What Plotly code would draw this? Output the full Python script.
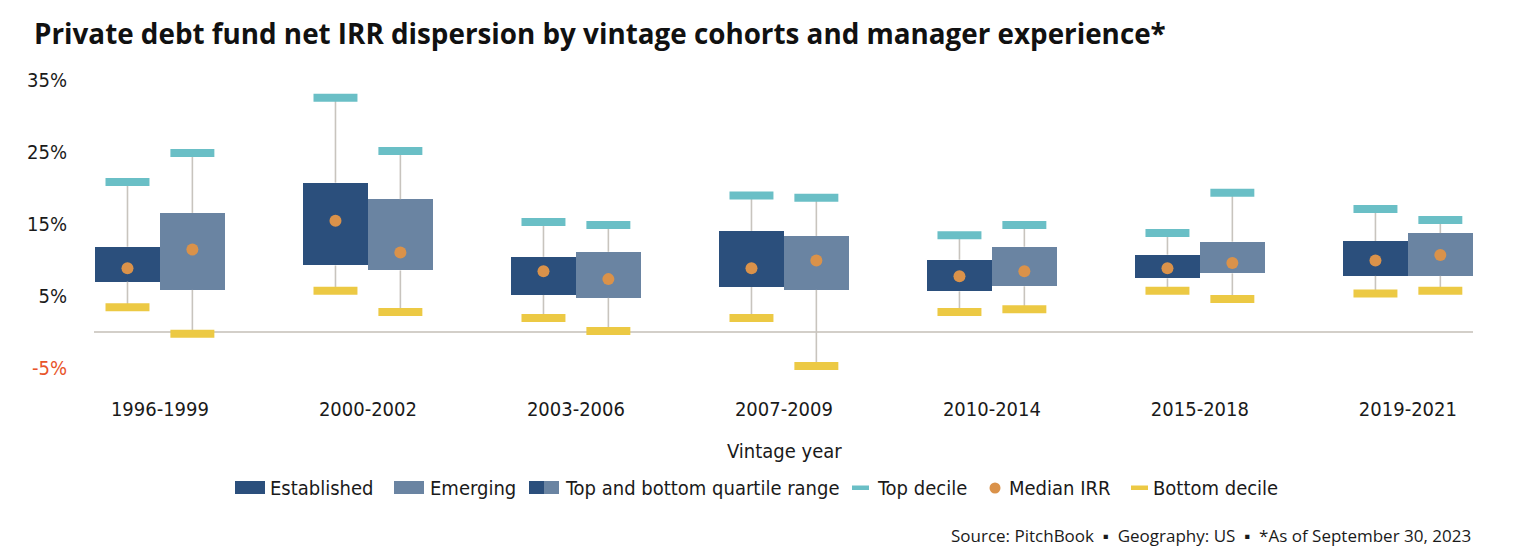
import plotly.graph_objects as go

# ---------------- data ----------------
vintages = ["1996-1999", "2000-2002", "2003-2006", "2007-2009", "2010-2014", "2015-2018", "2019-2021"]

est_top = [20.9, 32.6, 15.35, 19.0, 13.5, 13.8, 17.15]
est_q3 = [11.9, 20.8, 10.5, 14.1, 10.1, 10.8, 12.7]
est_med = [8.9, 15.5, 8.5, 8.9, 7.8, 8.9, 10.0]
est_q1 = [7.05, 9.3, 5.2, 6.3, 5.7, 7.5, 7.85]
est_bot = [3.5, 5.8, 2.0, 2.0, 2.85, 5.8, 5.4]

emg_top = [24.9, 25.2, 14.9, 18.7, 14.9, 19.4, 15.6]
emg_q3 = [16.6, 18.5, 11.2, 13.4, 11.9, 12.6, 13.8]
emg_med = [11.5, 11.1, 7.4, 10.0, 8.5, 9.65, 10.75]
emg_q1 = [5.9, 8.6, 4.8, 5.9, 6.4, 8.2, 7.85]
emg_bot = [-0.2, 2.85, 0.2, -4.65, 3.2, 4.65, 5.8]

y_tickvals = [-5, 5, 15, 25, 35]

# ---------------- style ----------------
EST = "#2B4F7C"
EMG = "#6A84A2"
TOP = "#6ABFC6"
BOT = "#ECC944"
MED = "#DA924A"
WHISK = "#C8C4BE"
ZERO = "#D3CFC9"
NEG = "#E8542A"
TXT = "#1A1A1A"
COND = "Liberation Sans Narrow, DejaVu Sans Condensed, Arial Narrow, sans-serif"
SANS = "Open Sans, Noto Sans, sans-serif"
FS = 20

# page body has an 8px margin: the figure starts at screen (8, 8)
BODY = 8
W, H = 1514 - BODY, 560 - BODY
ML, MR, MT, MB = 94 - BODY, 41, 66 - BODY, 170
PW, PH = W - ML - MR, H - MT - MB

OFF = 0.156
BOXW = 0.3125


def px(x):
    return (x - BODY - ML) / PW


def py(y):
    return (H - MB - (y - BODY)) / PH


fig = go.Figure()


def add_group(offset, top, q3, med, q1, bot, color):
    xs = [i + offset for i in range(len(vintages))]
    # whiskers (outside the box only)
    wx, wy = [], []
    for x, t, a, b, lo in zip(xs, top, q3, q1, bot):
        wx += [x, x, None, x, x, None]
        wy += [a, t, None, lo, b, None]
    fig.add_trace(go.Scatter(x=wx, y=wy, mode="lines", line=dict(color=WHISK, width=1.6),
                             hoverinfo="skip", showlegend=False))
    # quartile box
    fig.add_trace(go.Bar(x=xs, y=[a - b for a, b in zip(q3, q1)], base=q1, width=BOXW,
                         marker=dict(color=color, line=dict(width=0)), showlegend=False))
    # deciles
    fig.add_trace(go.Scatter(x=xs, y=top, mode="markers",
                             marker=dict(symbol="line-ew", size=31.4, line=dict(color=TOP, width=8)),
                             showlegend=False))
    fig.add_trace(go.Scatter(x=xs, y=bot, mode="markers",
                             marker=dict(symbol="line-ew", size=31.4, line=dict(color=BOT, width=8)),
                             showlegend=False))
    # median
    fig.add_trace(go.Scatter(x=xs, y=med, mode="markers",
                             marker=dict(symbol="circle", size=12, color=MED, line=dict(width=0)),
                             showlegend=False))


add_group(-OFF, est_top, est_q3, est_med, est_q1, est_bot, EST)
add_group(OFF, emg_top, emg_q3, emg_med, emg_q1, emg_bot, EMG)

ticktext = [(f'<span style="color:{NEG}">{v}%</span>' if v < 0 else f"{v}%") for v in y_tickvals]

fig.update_layout(
    width=W, height=H,
    margin=dict(l=ML, r=MR, t=MT, b=MB, pad=0),
    paper_bgcolor="white", plot_bgcolor="white",
    barmode="overlay", bargap=0,
    showlegend=False,
    font=dict(family=COND, size=FS, color=TXT),
    xaxis=dict(range=[-0.317, 6.313], tickvals=list(range(len(vintages))), ticktext=vintages,
               showgrid=False, zeroline=False, showline=False, ticks="",
               ticklabelstandoff=5, tickfont=dict(family=COND, size=FS, color=TXT), fixedrange=True),
    yaxis=dict(range=[-8, 37], tickvals=y_tickvals, ticktext=ticktext,
               showgrid=False, zeroline=True, zerolinecolor=ZERO, zerolinewidth=2,
               showline=False, ticks="", ticklabelstandoff=26,
               tickfont=dict(family=COND, size=FS, color=TXT), fixedrange=True),
)

ann = []
shapes = []
# title
ann.append(dict(text="<b>Private debt fund net IRR dispersion by vintage cohorts and manager experience*</b>",
                x=px(32), y=py(33), xref="paper", yref="paper", xanchor="left", yanchor="middle",
                showarrow=False, font=dict(family=SANS, size=27.8, color="#111111")))
# axis title
ann.append(dict(text="Vintage year", x=px(784), y=py(451), xref="paper", yref="paper",
                xanchor="center", yanchor="middle", showarrow=False,
                font=dict(family=COND, size=FS, color=TXT)))
# source
ann.append(dict(text="Source: PitchBook  ▪  Geography: US  ▪  *As of September 30, 2023",
                x=px(1473), y=py(535), xref="paper", yref="paper", xanchor="right", yanchor="middle",
                showarrow=False, font=dict(family=SANS, size=17, color=TXT)))

# legend
LY = 488


def rect(x0, x1, y0, y1, color, kind="rect"):
    shapes.append(dict(type=kind, xref="paper", yref="paper", x0=px(x0), x1=px(x1),
                       y0=py(y1), y1=py(y0), fillcolor=color, line=dict(width=0), layer="above"))


def label(x, text):
    ann.append(dict(text=text, x=px(x), y=py(LY), xref="paper", yref="paper", xanchor="left",
                    yanchor="middle", showarrow=False, font=dict(family=COND, size=FS, color=TXT)))


rect(235, 265, 481, 494, EST)
label(268, "Established")
rect(394, 424, 481, 494, EMG)
label(428, "Emerging")
rect(529, 544, 481, 494, EST)
rect(544, 559, 481, 494, EMG)
label(563, "Top and bottom quartile range")
rect(852, 869, 485.5, 490, TOP)
label(875, "Top decile")
rect(989.5, 1000.5, 482.5, 493.5, MED, kind="circle")
label(1007, "Median IRR")
rect(1131, 1148, 485.5, 490, BOT)
label(1151, "Bottom decile")

fig.update_layout(annotations=ann, shapes=shapes)

fig.write_html("out.html")
